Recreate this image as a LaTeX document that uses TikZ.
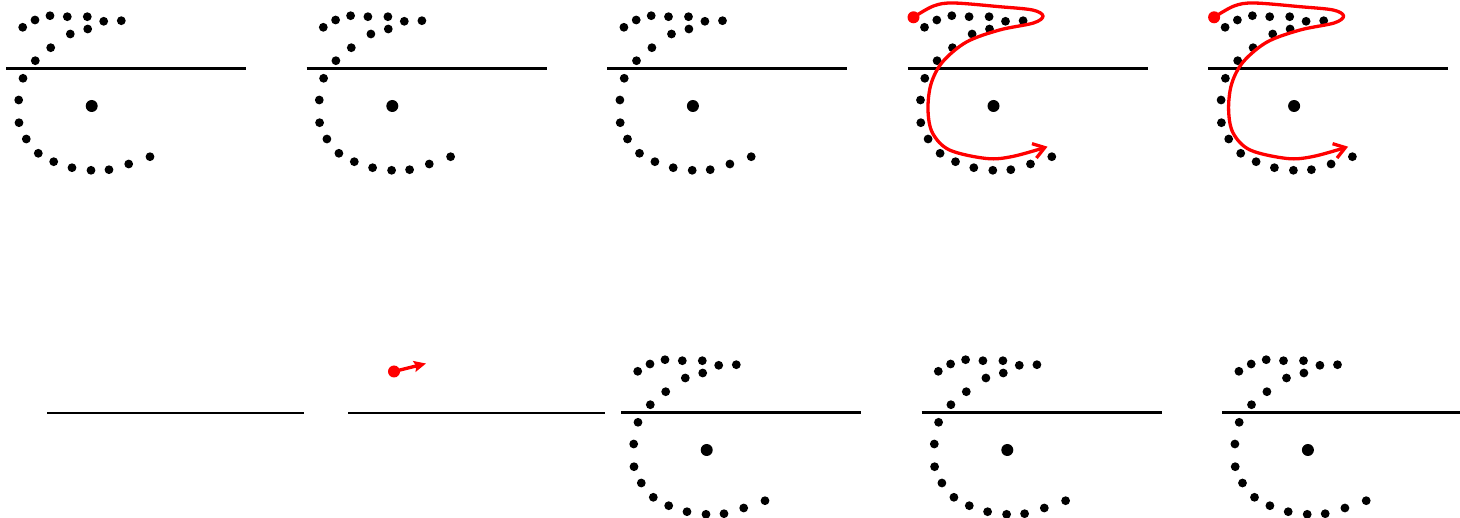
\documentclass[tikz,border=0pt]{standalone}
\usetikzlibrary{arrows.meta}
\tikzset{
  surface/.style={line width=3pt, line cap=butt},
  grain/.style={fill=black},
  path red/.style={draw=red, line width=3.3pt, line cap=round, line join=round,
    -{Straight Barb[length=11pt,width=15pt,line width=3.3pt]}},
  pics/cshape/.style={code={
    \draw[surface] (-85.7,-37) -- (154.3,-37);
    \fill[grain] (0,0) circle (6pt);
    \foreach \p in {(-69,-78.7),(-56.7,-86),(-41.7,-90.3),(-24.4,-89.3),(-4.4,-89.3),
      (12,-84.7),(29.6,-85.3),(-4,-77),(-21.4,-72),(-41,-58.3),(-56.4,-45.3),
      (-68.7,-27.7),(-73,-6),(-72.7,16.7),(-65.4,33),(-53.4,47.3),(-38,55.7),
      (-19.7,61.7),(-0.7,64.3),(17.3,63.7),(37,58),(58.3,50.7)}
      \fill[grain] \p circle (4.4pt);
  }},
  pics/cpath/.style={code={
    \draw[path red] plot[smooth, tension=0.55] coordinates {
      (-80,-88.7) (-60,-100) (-40,-103) (6,-99.3) (39,-96) (49.5,-90) (40,-83)
      (6,-76) (-27,-64) (-51,-44) (-62.5,-22) (-65.5,4) (-61,27) (-44,44)
      (-7,52.5) (19,50.5) (54,40.7)};
    \fill[red] (-80,-88.7) circle (6pt);
  }}
}
\begin{document}
\begin{tikzpicture}[x=1pt,y=-1pt]
  \useasboundingbox (0,0) rectangle (1460,518);
  % top row
  \pic at (91.7,106) {cshape};
  \pic at (392.3,106) {cshape};
  \pic at (692.9,106) {cshape};
  \pic at (993.5,106) {cshape};
  \pic at (993.5,106) {cpath};
  \pic at (1294.1,106) {cshape};
  \pic at (1294.1,106) {cpath};
  % bottom row
  \coordinate (l1a) at (47,413);
  \coordinate (l1b) at (304,413);
  \draw[surface, line width=2.7pt] (l1a) -- (l1b);
  \coordinate (l2a) at (348,413);
  \coordinate (l2b) at (605,413);
  \draw[surface, line width=2.7pt] (l2a) -- (l2b);
  \coordinate (s) at (394,371.5);
  \coordinate (t) at (426,363.5);
  \fill[red] (s) circle (6pt);
  \draw[red, line width=3.3pt, -{Stealth[length=12pt,width=11pt,inset=2pt]}] (s) -- (t);
  \pic at (706.7,450) {cshape};
  \pic at (1007.3,450) {cshape};
  \pic at (1307.9,450) {cshape};
\end{tikzpicture}
\end{document}
